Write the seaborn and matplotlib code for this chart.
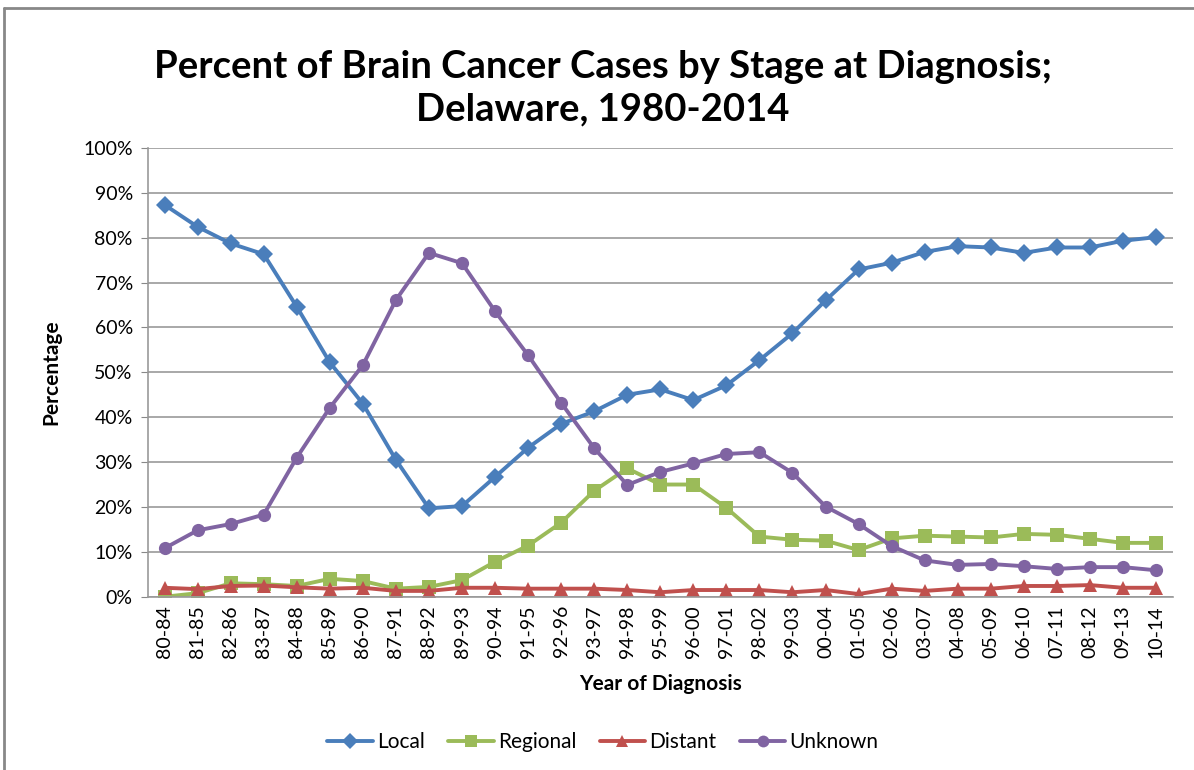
import numpy as np
import pandas as pd
import seaborn as sns
import matplotlib
matplotlib.use('Agg')
import matplotlib.pyplot as plt
from matplotlib.lines import Line2D
from matplotlib.ticker import FuncFormatter

# данные
periods = ['80-84', '81-85', '82-86', '83-87', '84-88', '85-89', '86-90', '87-91', '88-92', '89-93',
           '90-94', '91-95', '92-96', '93-97', '94-98', '95-99', '96-00', '97-01', '98-02', '99-03',
           '00-04', '01-05', '02-06', '03-07', '04-08', '05-09', '06-10', '07-11', '08-12', '09-13', '10-14']

local = [87.3, 82.4, 78.7, 76.3, 64.6, 52.2, 43.0, 30.5, 19.7, 20.2, 26.7, 33.2, 38.5, 41.3, 45.0, 46.2,
         43.8, 47.1, 52.7, 58.7, 66.0, 72.9, 74.4, 76.8, 78.1, 77.8, 76.6, 77.8, 77.8, 79.3, 80.1]
regional = [0.0, 0.8, 3.0, 2.8, 2.4, 4.0, 3.5, 1.8, 2.2, 3.7, 7.8, 11.4, 16.5, 23.6, 28.6, 25.0,
            25.0, 19.8, 13.4, 12.7, 12.5, 10.4, 13.0, 13.6, 13.4, 13.2, 14.0, 13.8, 12.9, 12.0, 12.0]
distant = [2.0, 1.7, 2.4, 2.5, 2.1, 1.8, 2.0, 1.3, 1.3, 2.0, 2.0, 1.8, 1.8, 1.8, 1.5, 1.0,
           1.5, 1.5, 1.5, 1.0, 1.5, 0.6, 1.8, 1.3, 1.8, 1.8, 2.4, 2.4, 2.6, 2.0, 2.0]
unknown = [10.8, 14.8, 16.2, 18.3, 31.0, 42.1, 51.6, 66.1, 76.6, 74.3, 63.6, 53.8, 43.2, 33.1, 24.9, 27.8,
           29.7, 31.8, 32.2, 27.6, 20.1, 16.2, 11.3, 8.1, 7.1, 7.3, 6.8, 6.2, 6.6, 6.6, 5.9]

stages = ['Local', 'Regional', 'Distant', 'Unknown']
colours = {'Local': '#4A7EBB', 'Regional': '#9BBB59', 'Distant': '#C0504D', 'Unknown': '#8064A2'}
markers = {'Local': 'D', 'Regional': 's', 'Distant': '^', 'Unknown': 'o'}

frames = []
for name, vals in zip(stages, [local, regional, distant, unknown]):
    frames.append(pd.DataFrame({'pos': np.arange(len(periods)), 'pct': vals, 'stage': name}))
df = pd.concat(frames, ignore_index=True)

sns.set_style('white')
plt.rcParams['font.family'] = ['Lato', 'DejaVu Sans']
plt.rcParams['text.color'] = 'black'
plt.rcParams['axes.labelcolor'] = 'black'
plt.rcParams['xtick.color'] = 'black'
plt.rcParams['ytick.color'] = 'black'

fig = plt.figure(figsize=(11.94, 7.70), dpi=100)
ax = fig.add_axes([0.124, 0.225, 0.858, 0.583])

sns.lineplot(data=df, x='pos', y='pct', hue='stage', style='stage', palette=colours,
             markers=markers, dashes=False, linewidth=2.8, markersize=9.5, markeredgewidth=0,
             legend=False, ax=ax)

ax.set_xlim(-0.5, len(periods) - 0.5)
ax.set_ylim(0, 100)
ax.set_yticks(np.arange(0, 101, 10))
ax.yaxis.set_major_formatter(FuncFormatter(lambda v, p: f'{int(v)}%'))
ax.set_xticks(np.arange(len(periods)))
ax.set_xticklabels(periods, rotation=90, fontsize=14)
ax.tick_params(axis='y', labelsize=14, length=5, color='#888888', left=True, pad=6)
ax.tick_params(axis='x', length=0, pad=6)
ax.grid(axis='y', color='#999999', linewidth=1.2)
ax.set_axisbelow(True)
for s in ['top', 'right']:
    ax.spines[s].set_visible(False)
for s in ['left', 'bottom']:
    ax.spines[s].set_color('#999999')
    ax.spines[s].set_linewidth(1.2)

ax.set_xlabel('Year of Diagnosis', fontsize=15, fontweight='bold', labelpad=12)
ax.set_ylabel('Percentage', fontsize=15, fontweight='bold', labelpad=16)

fig.text(0.505, 0.885, 'Percent of Brain Cancer Cases by Stage at Diagnosis;\nDelaware, 1980-2014',
         ha='center', va='center', fontsize=27.5, fontweight='bold', linespacing=1.3)

handles = [Line2D([0], [0], color=colours[s], marker=markers[s], linewidth=2.8, markersize=8.5,
                  markeredgewidth=0) for s in stages]
fig.legend(handles, stages, loc='center', bbox_to_anchor=(0.505, 0.036), ncol=4, frameon=False,
           fontsize=15, handlelength=2.2, handletextpad=0.2, columnspacing=1.1)

# рамка вокруг диаграммы
fig.add_artist(Line2D([0.003, 1.0], [0.99, 0.99], color='#888888', linewidth=2, transform=fig.transFigure))
fig.add_artist(Line2D([0.003, 0.003], [0.0, 0.99], color='#888888', linewidth=2, transform=fig.transFigure))

fig.savefig('out.png', dpi=100)
